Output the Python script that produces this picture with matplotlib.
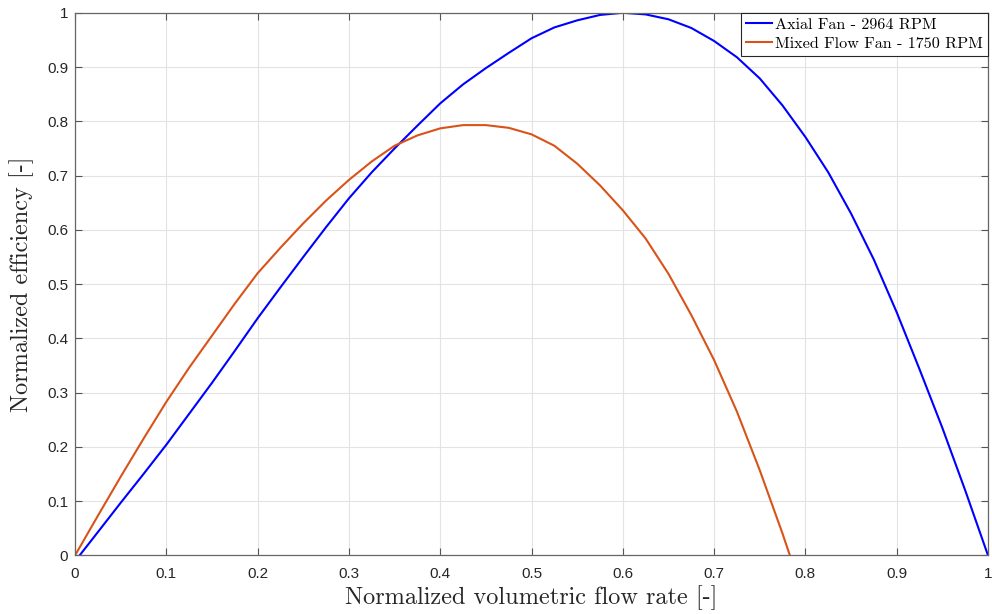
import numpy as np
import matplotlib
matplotlib.use("Agg")
from matplotlib import pyplot as plt

# values
axial_x = [0.005, 0.025, 0.05, 0.075, 0.1, 0.125, 0.15, 0.175, 0.2, 0.225,
           0.25, 0.275, 0.3, 0.325, 0.35, 0.375, 0.4, 0.425, 0.45, 0.475,
           0.5, 0.525, 0.55, 0.575, 0.6, 0.625, 0.65, 0.675, 0.7, 0.725,
           0.75, 0.775, 0.8, 0.825, 0.85, 0.875, 0.9, 0.925, 0.95, 0.975, 1.0]
axial_y = [0.0, 0.043, 0.097, 0.150, 0.204, 0.261, 0.318, 0.377, 0.437, 0.494,
           0.550, 0.605, 0.658, 0.706, 0.750, 0.792, 0.833, 0.868, 0.898, 0.926,
           0.953, 0.973, 0.986, 0.996, 1.0, 0.997, 0.988, 0.972, 0.948, 0.918,
           0.879, 0.829, 0.771, 0.706, 0.630, 0.545, 0.448, 0.343, 0.235, 0.120, 0.0]

mixed_x = [0.0, 0.025, 0.05, 0.075, 0.1, 0.125, 0.15, 0.175, 0.2, 0.225,
           0.25, 0.275, 0.3, 0.325, 0.35, 0.375, 0.4, 0.425, 0.45, 0.475,
           0.5, 0.525, 0.55, 0.575, 0.6, 0.625, 0.65, 0.675, 0.7, 0.725,
           0.75, 0.775, 0.783]
mixed_y = [0.0, 0.073, 0.145, 0.215, 0.283, 0.346, 0.405, 0.464, 0.520, 0.567,
           0.612, 0.654, 0.692, 0.726, 0.755, 0.774, 0.787, 0.793, 0.793, 0.788,
           0.776, 0.755, 0.722, 0.682, 0.636, 0.584, 0.519, 0.443, 0.360, 0.265,
           0.157, 0.040, 0.0]

labels = ["Axial Fan - 2964 RPM", "Mixed Flow Fan - 1750 RPM"]
ticks = [0, 0.1, 0.2, 0.3, 0.4, 0.5, 0.6, 0.7, 0.8, 0.9, 1]
tick_labels = ["0", "0.1", "0.2", "0.3", "0.4", "0.5", "0.6", "0.7", "0.8", "0.9", "1"]

plt.rcParams['font.family'] = ['Liberation Sans', 'DejaVu Sans']

fig = plt.figure(figsize=(9.92, 6.14), dpi=100)
ax = fig.add_axes([0.0756, 0.0953, 0.9204, 0.8839])

ax.plot(axial_x, axial_y, color='#0000FF', lw=1.5, label=labels[0])
ax.plot(mixed_x, mixed_y, color='#D95319', lw=1.5, label=labels[1])

ax.set_xlim(0, 1)
ax.set_ylim(0, 1)
ax.set_xticks(ticks)
ax.set_xticklabels(tick_labels)
ax.set_yticks(ticks)
ax.set_yticklabels(tick_labels)
ax.grid(True, color='#e3e3e3', lw=0.8)
ax.set_axisbelow(True)
ax.tick_params(direction='in', top=True, right=True, length=5,
               labelsize=11, labelcolor='#262626', color='#555555', width=0.8)
ax.tick_params(axis='x', pad=8.5)
ax.tick_params(axis='y', pad=5)
for s in ax.spines.values():
    s.set_color('#666666')
    s.set_linewidth(0.9)

serif = {'family': 'cmr10', 'size': 17.5, 'color': '#262626'}
ax.set_xlabel("Normalized volumetric flow rate [-]", fontdict=serif, labelpad=3)
ax.set_ylabel("Normalized efficiency [-]", fontdict=serif, labelpad=9)

leg = ax.legend(loc='upper right', prop={'family': 'cmr10', 'size': 11.6},
                fancybox=False, edgecolor='#262626', framealpha=1,
                borderaxespad=0.0, handlelength=1.6, handletextpad=0.2,
                borderpad=0.3, labelspacing=0.3)
leg.get_frame().set_linewidth(0.8)

fig.savefig("out.png", dpi=100)
